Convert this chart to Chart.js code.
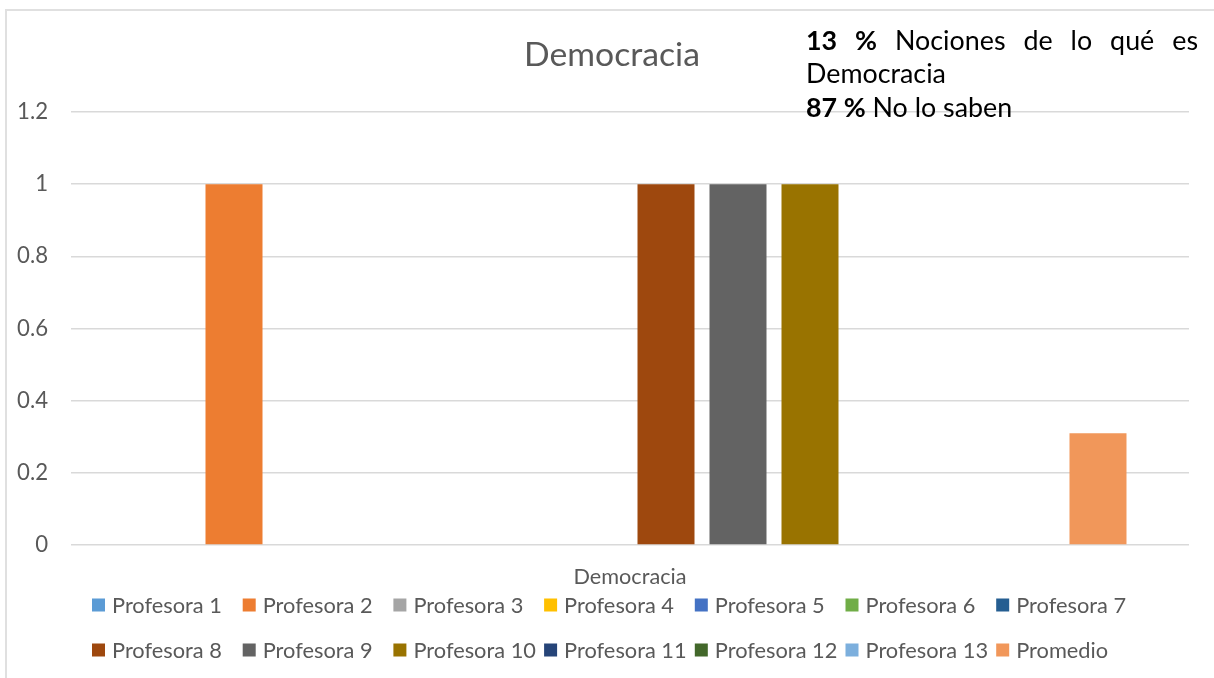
<!DOCTYPE html>
<html>
<head>
<meta charset="utf-8">
<script src="https://cdn.jsdelivr.net/npm/chart.js@4.4.1/dist/chart.umd.min.js"></script>
<style>
  html, body { margin: 0; padding: 0; background: #ffffff; }
  #wrap { position: relative; width: 1214px; height: 678px; overflow: hidden; }
  #frame { position: absolute; left: 5px; top: 9px; width: 1400px; height: 900px; border: 2px solid #e0e0e0; box-sizing: border-box; }
  canvas { position: absolute; left: 0; top: 0; }
</style>
</head>
<body>
<div id="wrap">
  <div id="frame"></div>
  <canvas id="c" width="1214" height="678"></canvas>
</div>
<script>
// ---- data ----
const categories = ['Democracia'];
const seriesNames = ['Profesora 1', 'Profesora 2', 'Profesora 3', 'Profesora 4', 'Profesora 5', 'Profesora 6', 'Profesora 7',
                     'Profesora 8', 'Profesora 9', 'Profesora 10', 'Profesora 11', 'Profesora 12', 'Profesora 13', 'Promedio'];
const seriesValues = [0, 1, 0, 0, 0, 0, 0, 1, 1, 1, 0, 0, 0, 0.31];
const yTickLabels = ['0', '0.2', '0.4', '0.6', '0.8', '1', '1.2'];
const chartTitle = 'Democracia';
const noteLine1 = [['13', true], ['%', true], ['Nociones', false], ['de', false], ['lo', false], ['qué', false], ['es', false]];
const noteLine2 = [['Democracia', false]];
const noteLine3 = [['87 %', true], [' No lo saben', false]];

// ---- styles ----
const seriesColors = ['#5B9BD5', '#ED7D31', '#A5A5A5', '#FFC000', '#4472C4', '#70AD47', '#255E91',
                      '#9E480E', '#636363', '#997300', '#264478', '#43682B', '#7CAFDD', '#F1975A'];
const FONT = "Lato, 'Open Sans', 'DejaVu Sans', sans-serif";
const GRAY = '#595959';

function fitSize(text, weight, target) {
  const c = document.createElement('canvas').getContext('2d');
  c.font = weight + ' 100px ' + FONT;
  return 100 * target / c.measureText(text).width;
}
const legendSize = fitSize('Profesora 1', 'normal', 110);
const tickSize = fitSize('0.8', 'normal', 31);
const catSize = fitSize('Democracia', 'normal', 113);
const titleSize = fitSize('Democracia', 'normal', 176);
const noteSize = fitSize('Democracia', 'normal', 140);

const overlayPlugin = {
  id: 'overlay',
  afterDraw(chart) {
    const ctx = chart.ctx;
    ctx.save();
    // Title
    ctx.fillStyle = GRAY;
    ctx.font = 'normal ' + titleSize + 'px ' + FONT;
    ctx.textAlign = 'center';
    ctx.textBaseline = 'alphabetic';
    ctx.fillText(chartTitle, 612, 66);

    // Note text box
    const nx = 806, nw = 392;
    ctx.fillStyle = '#000000';
    ctx.textAlign = 'left';
    const fnt = b => (b ? 'bold ' : 'normal ') + noteSize + 'px ' + FONT;
    let total = 0;
    noteLine1.forEach(([t, b]) => { ctx.font = fnt(b); total += ctx.measureText(t).width; });
    const gap = (nw - total) / (noteLine1.length - 1);
    let x = nx;
    noteLine1.forEach(([t, b]) => { ctx.font = fnt(b); ctx.fillText(t, x, 50); x += ctx.measureText(t).width + gap; });
    x = nx;
    noteLine2.forEach(([t, b]) => { ctx.font = fnt(b); ctx.fillText(t, x, 83); x += ctx.measureText(t).width; });
    x = nx;
    noteLine3.forEach(([t, b]) => { ctx.font = fnt(b); ctx.fillText(t, x, 117); x += ctx.measureText(t).width; });

    // Legend (Excel style grid)
    ctx.font = 'normal ' + legendSize + 'px ' + FONT;
    ctx.textBaseline = 'middle';
    const perRow = 7, colW = 150.7, x0 = 92, rowsY = [605, 650], box = 13;
    chart.data.datasets.forEach((ds, i) => {
      const r = Math.floor(i / perRow), c = i % perRow;
      const bx = x0 + c * colW, cy = rowsY[r];
      ctx.fillStyle = ds.backgroundColor;
      ctx.fillRect(bx, cy - box / 2, box, box);
      ctx.fillStyle = GRAY;
      ctx.fillText(ds.label, bx + 20, cy + 1);
    });
    ctx.restore();
  }
};

const datasets = seriesNames.map((name, i) => ({
  label: name,
  data: [seriesValues[i]],
  backgroundColor: seriesColors[i],
  borderWidth: 0,
  categoryPercentage: 0.9016,
  barPercentage: 0.7917
}));

new Chart(document.getElementById('c'), {
  type: 'bar',
  data: { labels: categories, datasets },
  plugins: [overlayPlugin],
  options: {
    responsive: false,
    animation: false,
    events: [],
    layout: { padding: { left: 11, right: 25, top: 112, bottom: 93 } },
    plugins: { legend: { display: false }, title: { display: false }, tooltip: { enabled: false } },
    scales: {
      x: {
        grid: { display: false, drawTicks: false },
        border: { display: false },
        ticks: { color: GRAY, font: { family: FONT, size: catSize }, padding: 19 },
        afterFit(s) { s.height = 40; }
      },
      y: {
        min: 0, max: 1.2,
        grid: { color: '#d9d9d9', lineWidth: 1.5, drawTicks: false },
        border: { display: false },
        ticks: { stepSize: 0.2, color: GRAY, font: { family: FONT, size: tickSize }, padding: 23,
                 callback: (v, i) => yTickLabels[i] },
        afterFit(s) { s.width = 60; }
      }
    }
  }
});
</script>
</body>
</html>
